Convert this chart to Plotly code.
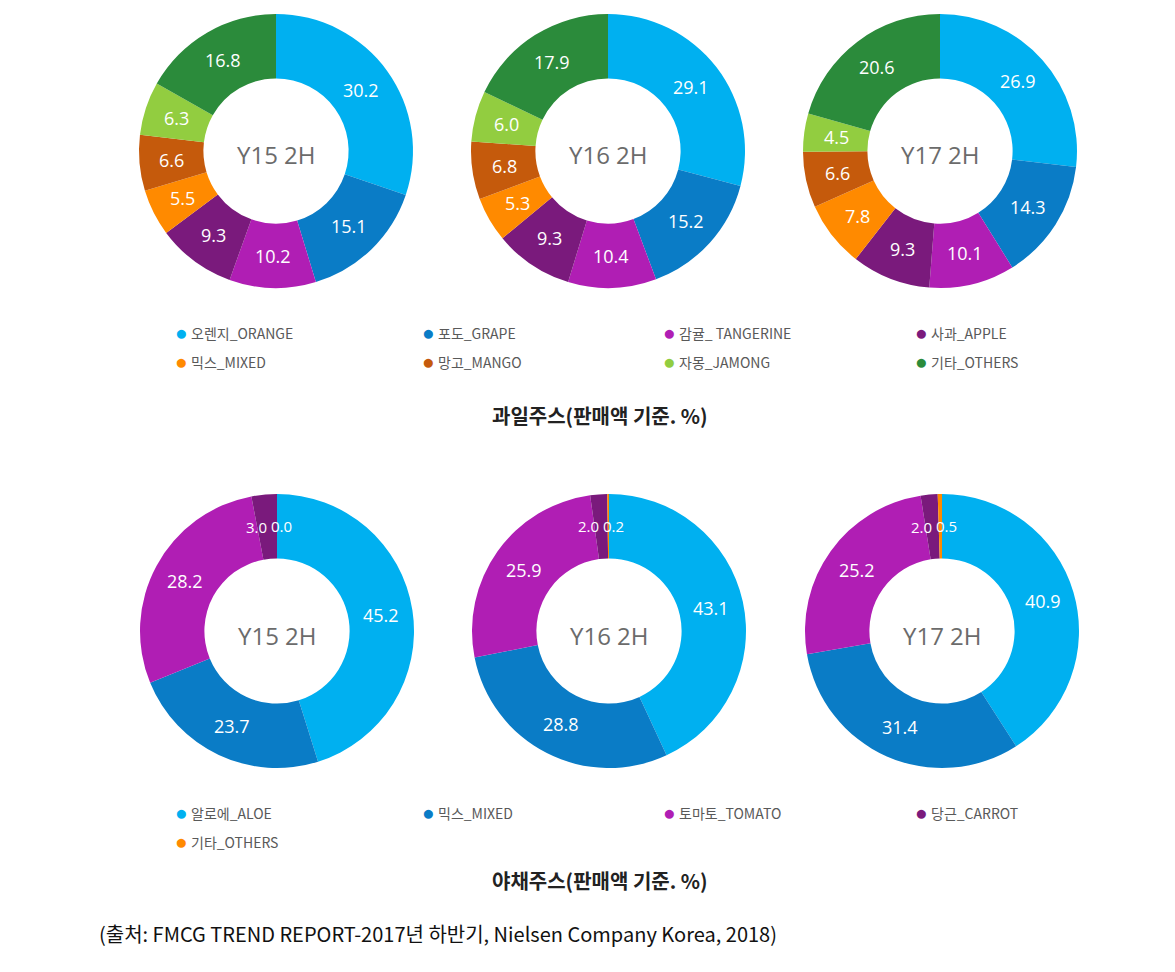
import math
import plotly.graph_objects as go

W, H = 1175, 972

# ---------------- data ----------------
periods = ["Y15 2H", "Y16 2H", "Y17 2H"]

fruit_labels = ["오렌지_ORANGE", "포도_GRAPE", "감귤_ TANGERINE", "사과_APPLE",
                "믹스_MIXED", "망고_MANGO", "자몽_JAMONG", "기타_OTHERS"]
fruit_colors = ["#00B0F0", "#0A7CC6", "#B01EB4", "#7A1A7C",
                "#FF8A00", "#C55A0C", "#92CD40", "#2B8B3B"]
fruit_y15 = [30.2, 15.1, 10.2, 9.3, 5.5, 6.6, 6.3, 16.8]
fruit_y16 = [29.1, 15.2, 10.4, 9.3, 5.3, 6.8, 6.0, 17.9]
fruit_y17 = [26.9, 14.3, 10.1, 9.3, 7.8, 6.6, 4.5, 20.6]

veg_labels = ["알로에_ALOE", "믹스_MIXED", "토마토_TOMATO", "당근_CARROT", "기타_OTHERS"]
veg_colors = ["#00B0F0", "#0A7CC6", "#B01EB4", "#7A1A7C", "#FF8A00"]
veg_y15 = [45.2, 23.7, 28.2, 3.0, 0.0]
veg_y16 = [43.1, 28.8, 25.9, 2.0, 0.2]
veg_y17 = [40.9, 31.4, 25.2, 2.0, 0.5]

fruit_title = "과일주스(판매액 기준. %)"
veg_title = "야채주스(판매액 기준. %)"
source_text = "(출처: FMCG TREND REPORT-2017년 하반기, Nielsen Company Korea, 2018)"

# ---------------- layout constants ----------------
R = 137
HOLE = 0.53
fruit_centers = [(276, 151), (608, 151), (940, 151)]
veg_centers = [(277, 631), (609, 631), (942, 631)]

fig = go.Figure()
annotations = []


def add_donut(values, labels, colors, center, period):
    cx, cy = center
    dom_x = [(cx - R) / W, (cx + R) / W]
    dom_y = [1 - (cy + R) / H, 1 - (cy - R) / H]
    fig.add_trace(go.Pie(
        values=values, labels=labels, sort=False, direction="clockwise",
        rotation=0, hole=HOLE, textinfo="none", hoverinfo="label+value",
        marker=dict(colors=colors, line=dict(width=0)),
        domain=dict(x=dom_x, y=dom_y), showlegend=False,
    ))
    # center label
    annotations.append(dict(
        x=cx / W, y=1 - (cy + 4) / H, xref="paper", yref="paper",
        xanchor="center", yanchor="middle",
        text=period, showarrow=False,
        font=dict(family="Open Sans, Segoe UI, sans-serif", size=24, color="#6b6b6b"),
    ))
    # value labels at mid-ring
    total = sum(values)
    rmid = R * (1 + HOLE) / 2
    cum = 0.0
    n = len(values)
    for i, v in enumerate(values):
        ang = (cum + v / 2) / total * 2 * math.pi
        cum += v
        lx = cx + rmid * math.sin(ang)
        ly = cy - rmid * math.cos(ang)
        xanchor = "center"
        size = 18
        # tiny neighbouring slices near the top: split the labels sideways
        if v / total < 0.04:
            size = 15
            xanchor = "right" if i == n - 2 else "left"
            lx = cx - 8
        annotations.append(dict(
            x=lx / W, y=1 - ly / H, xref="paper", yref="paper",
            xanchor=xanchor, yanchor="middle",
            text=f"{v:.1f}", showarrow=False,
            font=dict(family="Open Sans, Segoe UI, sans-serif", size=size, color="white"),
        ))


for vals, c, p in zip([fruit_y15, fruit_y16, fruit_y17], fruit_centers, periods):
    add_donut(vals, fruit_labels, fruit_colors, c, p)
for vals, c, p in zip([veg_y15, veg_y16, veg_y17], veg_centers, periods):
    add_donut(vals, veg_labels, veg_colors, c, p)

# ---------------- legends ----------------
leg_cols = [181, 428, 669, 921]


def add_legend(labels, colors, rows_y):
    for i, (lab, col) in enumerate(zip(labels, colors)):
        r, c = divmod(i, 4)
        x = leg_cols[c]
        y = rows_y[r]
        annotations.append(dict(
            x=x / W, y=1 - (y - 1) / H, xref="paper", yref="paper",
            xanchor="center", yanchor="middle",
            text="●", showarrow=False, font=dict(size=21, color=col),
        ))
        annotations.append(dict(
            x=(x + 8) / W, y=1 - y / H, xref="paper", yref="paper",
            xanchor="left", yanchor="middle",
            text=lab, showarrow=False,
            font=dict(family="Noto Sans CJK KR, sans-serif", size=14, color="#595959"),
        ))


add_legend(fruit_labels, fruit_colors, [333, 362])
add_legend(veg_labels, veg_colors, [813, 842])

# ---------------- titles ----------------
for t, y in [(fruit_title, 415), (veg_title, 880)]:
    annotations.append(dict(
        x=600 / W, y=1 - y / H, xref="paper", yref="paper",
        xanchor="center", yanchor="middle",
        text=f"<b>{t}</b>", showarrow=False,
        font=dict(family="Noto Sans CJK KR, sans-serif", size=20, color="#222222"),
    ))

annotations.append(dict(
    x=97 / W, y=1 - 933 / H, xref="paper", yref="paper",
    xanchor="left", yanchor="middle",
    text=source_text, showarrow=False,
    font=dict(family="Noto Sans CJK KR, sans-serif", size=20, color="#111111"),
))

fig.update_layout(
    width=W, height=H, margin=dict(l=0, r=0, t=0, b=0),
    paper_bgcolor="white", plot_bgcolor="white",
    annotations=annotations, showlegend=False,
)

fig.write_html("out.html")
